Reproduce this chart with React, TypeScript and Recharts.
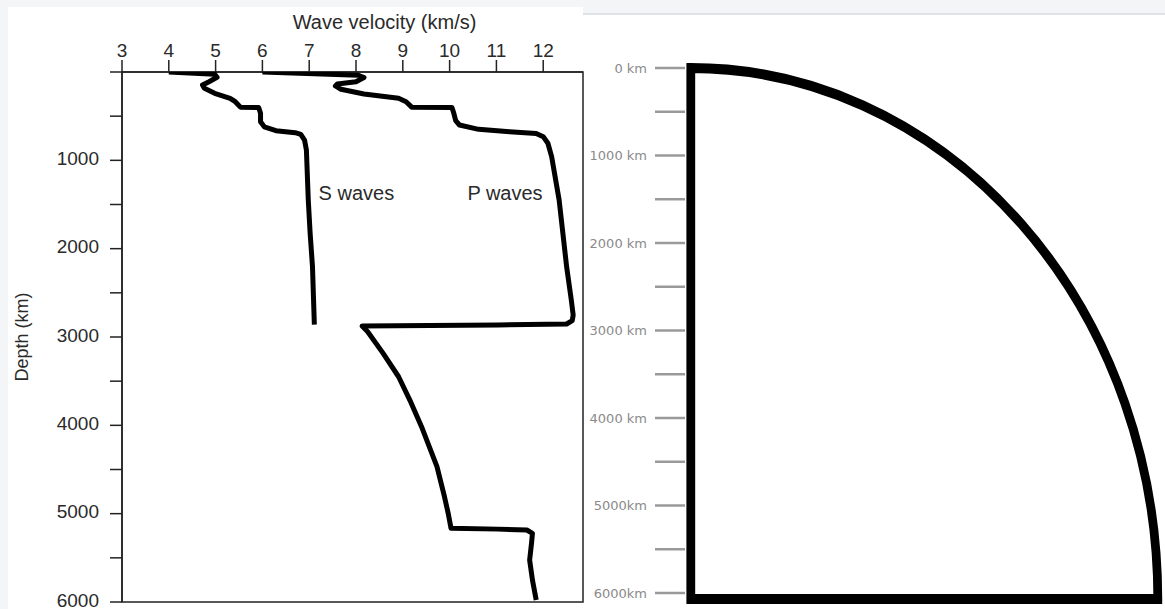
import React from "react"
import { ScatterChart, Scatter, XAxis, YAxis, ReferenceArea, ReferenceDot, PieChart, Pie } from "recharts"

// velocity (km/s) against depth (km)
const sWaves = [
    { d: 0, v: 4.0 }, { d: 25, v: 4.98 }, { d: 60, v: 5.03 }, { d: 110, v: 4.86 },
    { d: 147, v: 4.72 }, { d: 185, v: 4.76 }, { d: 241, v: 4.98 }, { d: 298, v: 5.31 },
    { d: 336, v: 5.42 }, { d: 398, v: 5.53 }, { d: 402, v: 5.92 }, { d: 467, v: 5.96 },
    { d: 563, v: 5.96 }, { d: 620, v: 6.04 }, { d: 665, v: 6.29 }, { d: 687, v: 6.7 },
    { d: 706, v: 6.82 }, { d: 770, v: 6.9 }, { d: 883, v: 6.94 }, { d: 1449, v: 6.98 },
    { d: 1826, v: 7.02 }, { d: 2204, v: 7.07 }, { d: 2860, v: 7.11 },
]

const pWaves = [
    { d: 0, v: 6.0 }, { d: 37, v: 8.05 }, { d: 63, v: 8.17 }, { d: 110, v: 8.0 },
    { d: 136, v: 7.6 }, { d: 158, v: 7.56 }, { d: 196, v: 7.68 }, { d: 249, v: 8.17 },
    { d: 298, v: 8.91 }, { d: 336, v: 9.07 }, { d: 398, v: 9.19 }, { d: 402, v: 10.05 },
    { d: 468, v: 10.09 }, { d: 551, v: 10.13 }, { d: 600, v: 10.21 }, { d: 649, v: 10.62 },
    { d: 676, v: 11.28 }, { d: 695, v: 11.85 }, { d: 732, v: 12.0 }, { d: 807, v: 12.1 },
    { d: 958, v: 12.18 }, { d: 1449, v: 12.34 }, { d: 1826, v: 12.42 }, { d: 2204, v: 12.5 },
    { d: 2581, v: 12.6 }, { d: 2751, v: 12.64 }, { d: 2815, v: 12.62 }, { d: 2853, v: 12.5 },
    { d: 2864, v: 11.03 }, { d: 2876, v: 8.13 }, { d: 2940, v: 8.25 }, { d: 3185, v: 8.58 },
    { d: 3450, v: 8.91 }, { d: 3714, v: 9.15 }, { d: 4015, v: 9.4 }, { d: 4468, v: 9.73 },
    { d: 4808, v: 9.89 }, { d: 4997, v: 9.97 }, { d: 5166, v: 10.03 }, { d: 5175, v: 11.03 },
    { d: 5185, v: 11.65 }, { d: 5223, v: 11.77 }, { d: 5336, v: 11.75 }, { d: 5525, v: 11.71 },
    { d: 5751, v: 11.77 }, { d: 5977, v: 11.85 },
]

const waveLabels = [
    { name: "S waves", v: 7.2, d: 1370 },
    { name: "P waves", v: 10.38, d: 1370 },
]

const velocityTicks = [3, 4, 5, 6, 7, 8, 9, 10, 11, 12]
const depthTicks = [0, 500, 1000, 1500, 2000, 2500, 3000, 3500, 4000, 4500, 5000, 5500, 6000]
const shellLabels: Record<number, string> = {
    0: "0 km", 1000: "1000 km", 2000: "2000 km", 3000: "3000 km",
    4000: "4000 km", 5000: "5000km", 6000: "6000km",
}
const earthSlice = [{ name: "Earth", value: 1 }]

const axisStroke = { stroke: "#222", strokeWidth: 1.5 }
const inkText = "#2a2a2a"

function VelocityChart() {
    return (
        <ScatterChart width={600} height={609} margin={{ top: 12, right: 17, bottom: 7, left: 12 }}>
            <XAxis
                type="number"
                dataKey="v"
                orientation="top"
                domain={[3, 12.85]}
                ticks={velocityTicks}
                interval={0}
                allowDataOverflow
                height={60}
                tickSize={12}
                tickMargin={3}
                axisLine={axisStroke}
                tickLine={axisStroke}
                tick={{ fill: inkText, fontSize: 19 }}
                label={(props: any) => (
                    <text
                        x={props.viewBox.x + props.viewBox.width / 2 + 32}
                        y={29}
                        textAnchor="middle"
                        fill={inkText}
                        fontSize={20}
                    >
                        Wave velocity (km/s)
                    </text>
                )}
            />
            <YAxis
                type="number"
                dataKey="d"
                domain={[0, 6000]}
                reversed
                ticks={depthTicks}
                interval={0}
                allowDataOverflow
                width={110}
                tickSize={12}
                tickMargin={11}
                axisLine={axisStroke}
                tickLine={axisStroke}
                tick={{ fill: inkText, fontSize: 19, dy: -2 }}
                tickFormatter={(d: number) => (d > 0 && d % 1000 === 0 ? String(d) : "")}
                label={{
                    value: "Depth (km)",
                    angle: -90,
                    position: "insideLeft",
                    offset: 10,
                    style: { textAnchor: "middle", fill: inkText, fontSize: 18 },
                }}
            />
            <ReferenceArea x1={3} x2={12.85} y1={0} y2={6000} fill="none" stroke="#222" strokeWidth={1.5} />
            {[sWaves, pWaves].map((series, i) => (
                <Scatter
                    key={i}
                    data={series}
                    line={{ stroke: "#000", strokeWidth: 5, strokeLinejoin: "round" }}
                    lineType="joint"
                    shape={() => <g />}
                    isAnimationActive={false}
                />
            ))}
            {waveLabels.map((l) => (
                <ReferenceDot
                    key={l.name}
                    x={l.v}
                    y={l.d}
                    r={0}
                    fill="none"
                    stroke="none"
                    label={{ value: l.name, position: "right", offset: 0, fill: inkText, fontSize: 20 }}
                />
            ))}
        </ScatterChart>
    )
}

function EarthSection() {
    const tickAnchors = depthTicks.map((d) => ({ x: 0, d }))
    return (
        <>
            <div style={{ position: "absolute", left: 583, top: 0 }}>
                <ScatterChart width={582} height={609} margin={{ top: 68, right: 0, bottom: 16, left: 0 }}>
                    <XAxis type="number" dataKey="x" domain={[0, 1]} hide />
                    <YAxis
                        type="number"
                        dataKey="d"
                        domain={[0, 6000]}
                        reversed
                        ticks={depthTicks}
                        interval={0}
                        width={102}
                        tickSize={30}
                        tickMargin={8}
                        axisLine={false}
                        tickLine={{ stroke: "#9a9a9a", strokeWidth: 2.5 }}
                        tick={{ fill: "#8a8a8a", fontSize: 13, fontFamily: "'DejaVu Sans', sans-serif" }}
                        tickFormatter={(d: number) => shellLabels[d] ?? ""}
                    />
                    <Scatter data={tickAnchors} shape={() => <g />} isAnimationActive={false} />
                </ScatterChart>
            </div>
            <div style={{ position: "absolute", left: 682, top: 49, transform: "scaleX(0.8795)", transformOrigin: "0 0" }}>
                <PieChart width={560} height={560} margin={{ top: 0, right: 0, bottom: 0, left: 0 }}>
                    <Pie
                        data={earthSlice}
                        dataKey="value"
                        cx={10}
                        cy={550}
                        innerRadius={0}
                        outerRadius={531}
                        startAngle={90}
                        endAngle={0}
                        fill="#fff"
                        stroke="#000"
                        strokeWidth={10}
                        isAnimationActive={false}
                    />
                </PieChart>
            </div>
        </>
    )
}

export default function App() {
    return (
        <div
            style={{
                position: "absolute",
                left: 0,
                top: 0,
                width: 1165,
                height: 609,
                overflow: "hidden",
                background: "#f4f5f7",
                fontFamily: "'Liberation Sans', Arial, sans-serif",
            }}
        >
            <div style={{ position: "absolute", left: 8, top: 7, width: 575, height: 602, background: "#fff" }} />
            <div style={{ position: "absolute", left: 583, top: 13, width: 582, height: 2, background: "#dfe1e4" }} />
            <div style={{ position: "absolute", left: 583, top: 15, width: 582, height: 594, background: "#fff" }} />
            <div style={{ position: "absolute", left: 0, top: 0 }}>
                <VelocityChart />
            </div>
            <EarthSection />
        </div>
    )
}
